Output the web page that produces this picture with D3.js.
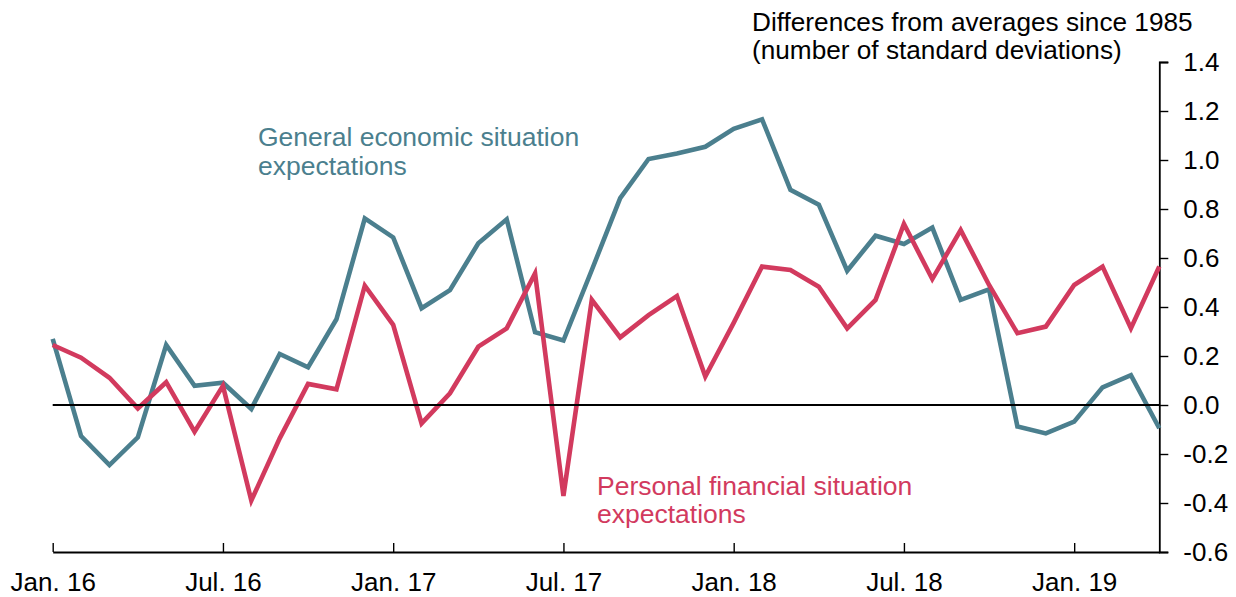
<!DOCTYPE html>
<html>
<head>
<meta charset="utf-8">
<script src="https://cdn.jsdelivr.net/npm/d3@7"></script>
<style>
  html, body { margin: 0; padding: 0; background: #fff; }
  svg { display: block; font-family: "Liberation Sans", Arial, sans-serif; }
</style>
</head>
<body>
<svg id="chart" width="1236" height="597"></svg>
<script>
// ---- Data ----
const months = [
  "2016-01","2016-02","2016-03","2016-04","2016-05","2016-06","2016-07","2016-08","2016-09","2016-10","2016-11","2016-12",
  "2017-01","2017-02","2017-03","2017-04","2017-05","2017-06","2017-07","2017-08","2017-09","2017-10","2017-11","2017-12",
  "2018-01","2018-02","2018-03","2018-04","2018-05","2018-06","2018-07","2018-08","2018-09","2018-10","2018-11","2018-12",
  "2019-01","2019-02","2019-03","2019-04"
];
const generalEconomic = [
  0.27, -0.127, -0.245, -0.132, 0.245, 0.078, 0.091, -0.016, 0.208, 0.154, 0.35, 0.762,
  0.684, 0.395, 0.469, 0.66, 0.758, 0.297, 0.263, 0.551, 0.844, 1.004, 1.027, 1.054,
  1.127, 1.166, 0.878, 0.818, 0.548, 0.691, 0.657, 0.724, 0.429, 0.472, -0.088, -0.116,
  -0.068, 0.072, 0.122, -0.095
];
const personalFinancial = [
  0.245, 0.193, 0.111, -0.014, 0.093, -0.109, 0.078, -0.39, -0.136, 0.086, 0.064, 0.487,
  0.327, -0.075, 0.048, 0.238, 0.313, 0.537, -0.371, 0.429, 0.276, 0.367, 0.445, 0.116,
  0.335, 0.565, 0.551, 0.483, 0.313, 0.429, 0.739, 0.514, 0.714, 0.49, 0.293, 0.32,
  0.49, 0.565, 0.313, 0.565
];
const xTickMonths = ["2016-01","2016-07","2017-01","2017-07","2018-01","2018-07","2019-01"];
const xTickLabels = ["Jan. 16","Jul. 16","Jan. 17","Jul. 17","Jan. 18","Jul. 18","Jan. 19"];
const yTicks = [-0.6, -0.4, -0.2, 0.0, 0.2, 0.4, 0.6, 0.8, 1.0, 1.2, 1.4];
const titleLines = ["Differences from averages since 1985", "(number of standard deviations)"];
const generalLabel = ["General economic situation", "expectations"];
const personalLabel = ["Personal financial situation", "expectations"];

// ---- Styles ----
const TEAL = "#4b7f8e";
const RED = "#d23a5e";

const svg = d3.select("#chart");
const plotLeft = 52.7, plotRight = 1159.3, plotTop = 62, plotBottom = 552;

const x = d3.scalePoint().domain(months).range([plotLeft, plotRight]);
const y = d3.scaleLinear().domain([-0.6, 1.4]).range([plotBottom, plotTop]);

// X axis (bottom)
const xAxis = d3.axisBottom(x)
  .tickValues(xTickMonths)
  .tickFormat((d) => xTickLabels[xTickMonths.indexOf(d)])
  .tickSizeInner(-9)
  .tickSizeOuter(0)
  .tickPadding(20.5);
const gx = svg.append("g").attr("transform", `translate(0,${plotBottom})`).call(xAxis);
gx.select(".domain").attr("stroke", "#000").attr("stroke-width", 2.2);
gx.selectAll(".tick line").attr("stroke", "#000").attr("stroke-width", 1.4);
gx.selectAll(".tick text").attr("fill", "#000").style("font-size", "26px")
  .style("font-family", '"Liberation Sans", Arial, sans-serif');

// Y axis (right)
const yAxis = d3.axisRight(y)
  .tickValues(yTicks)
  .tickFormat((d) => d.toFixed(1))
  .tickSizeInner(9)
  .tickSizeOuter(9)
  .tickPadding(15);
const gy = svg.append("g").attr("transform", `translate(${plotRight},0)`).call(yAxis);
gy.select(".domain").attr("stroke", "#000").attr("stroke-width", 1.8);
gy.selectAll(".tick line").attr("stroke", "#000").attr("stroke-width", 1.4);
gy.selectAll(".tick text").attr("fill", "#000").style("font-size", "26px")
  .style("font-family", '"Liberation Sans", Arial, sans-serif');

// Lines
const line = d3.line().x((d, i) => x(months[i])).y((d) => y(d));
svg.append("path").datum(generalEconomic)
  .attr("d", line).attr("fill", "none").attr("stroke", TEAL)
  .attr("stroke-width", 4.6).attr("stroke-linejoin", "miter");
svg.append("path").datum(personalFinancial)
  .attr("d", line).attr("fill", "none").attr("stroke", RED)
  .attr("stroke-width", 4.6).attr("stroke-linejoin", "miter");

// Zero line
svg.append("line")
  .attr("x1", plotLeft).attr("x2", plotRight)
  .attr("y1", y(0)).attr("y2", y(0))
  .attr("stroke", "#000").attr("stroke-width", 2.2);

// Title (axis units)
svg.append("text").attr("x", 752).attr("y", 31)
  .style("font-size", "26.2px").attr("fill", "#000")
  .selectAll("tspan").data(titleLines).join("tspan")
  .attr("x", 752).attr("dy", (d, i) => i === 0 ? 0 : 27.5).text((d) => d);

// Series labels
svg.append("text").attr("x", 258).attr("y", 146)
  .style("font-size", "26.5px").attr("fill", TEAL)
  .selectAll("tspan").data(generalLabel).join("tspan")
  .attr("x", 258).attr("dy", (d, i) => i === 0 ? 0 : 29).text((d) => d);

svg.append("text").attr("x", 597).attr("y", 495)
  .style("font-size", "26.5px").attr("fill", RED)
  .selectAll("tspan").data(personalLabel).join("tspan")
  .attr("x", 597).attr("dy", (d, i) => i === 0 ? 0 : 28).text((d) => d);
</script>
</body>
</html>
